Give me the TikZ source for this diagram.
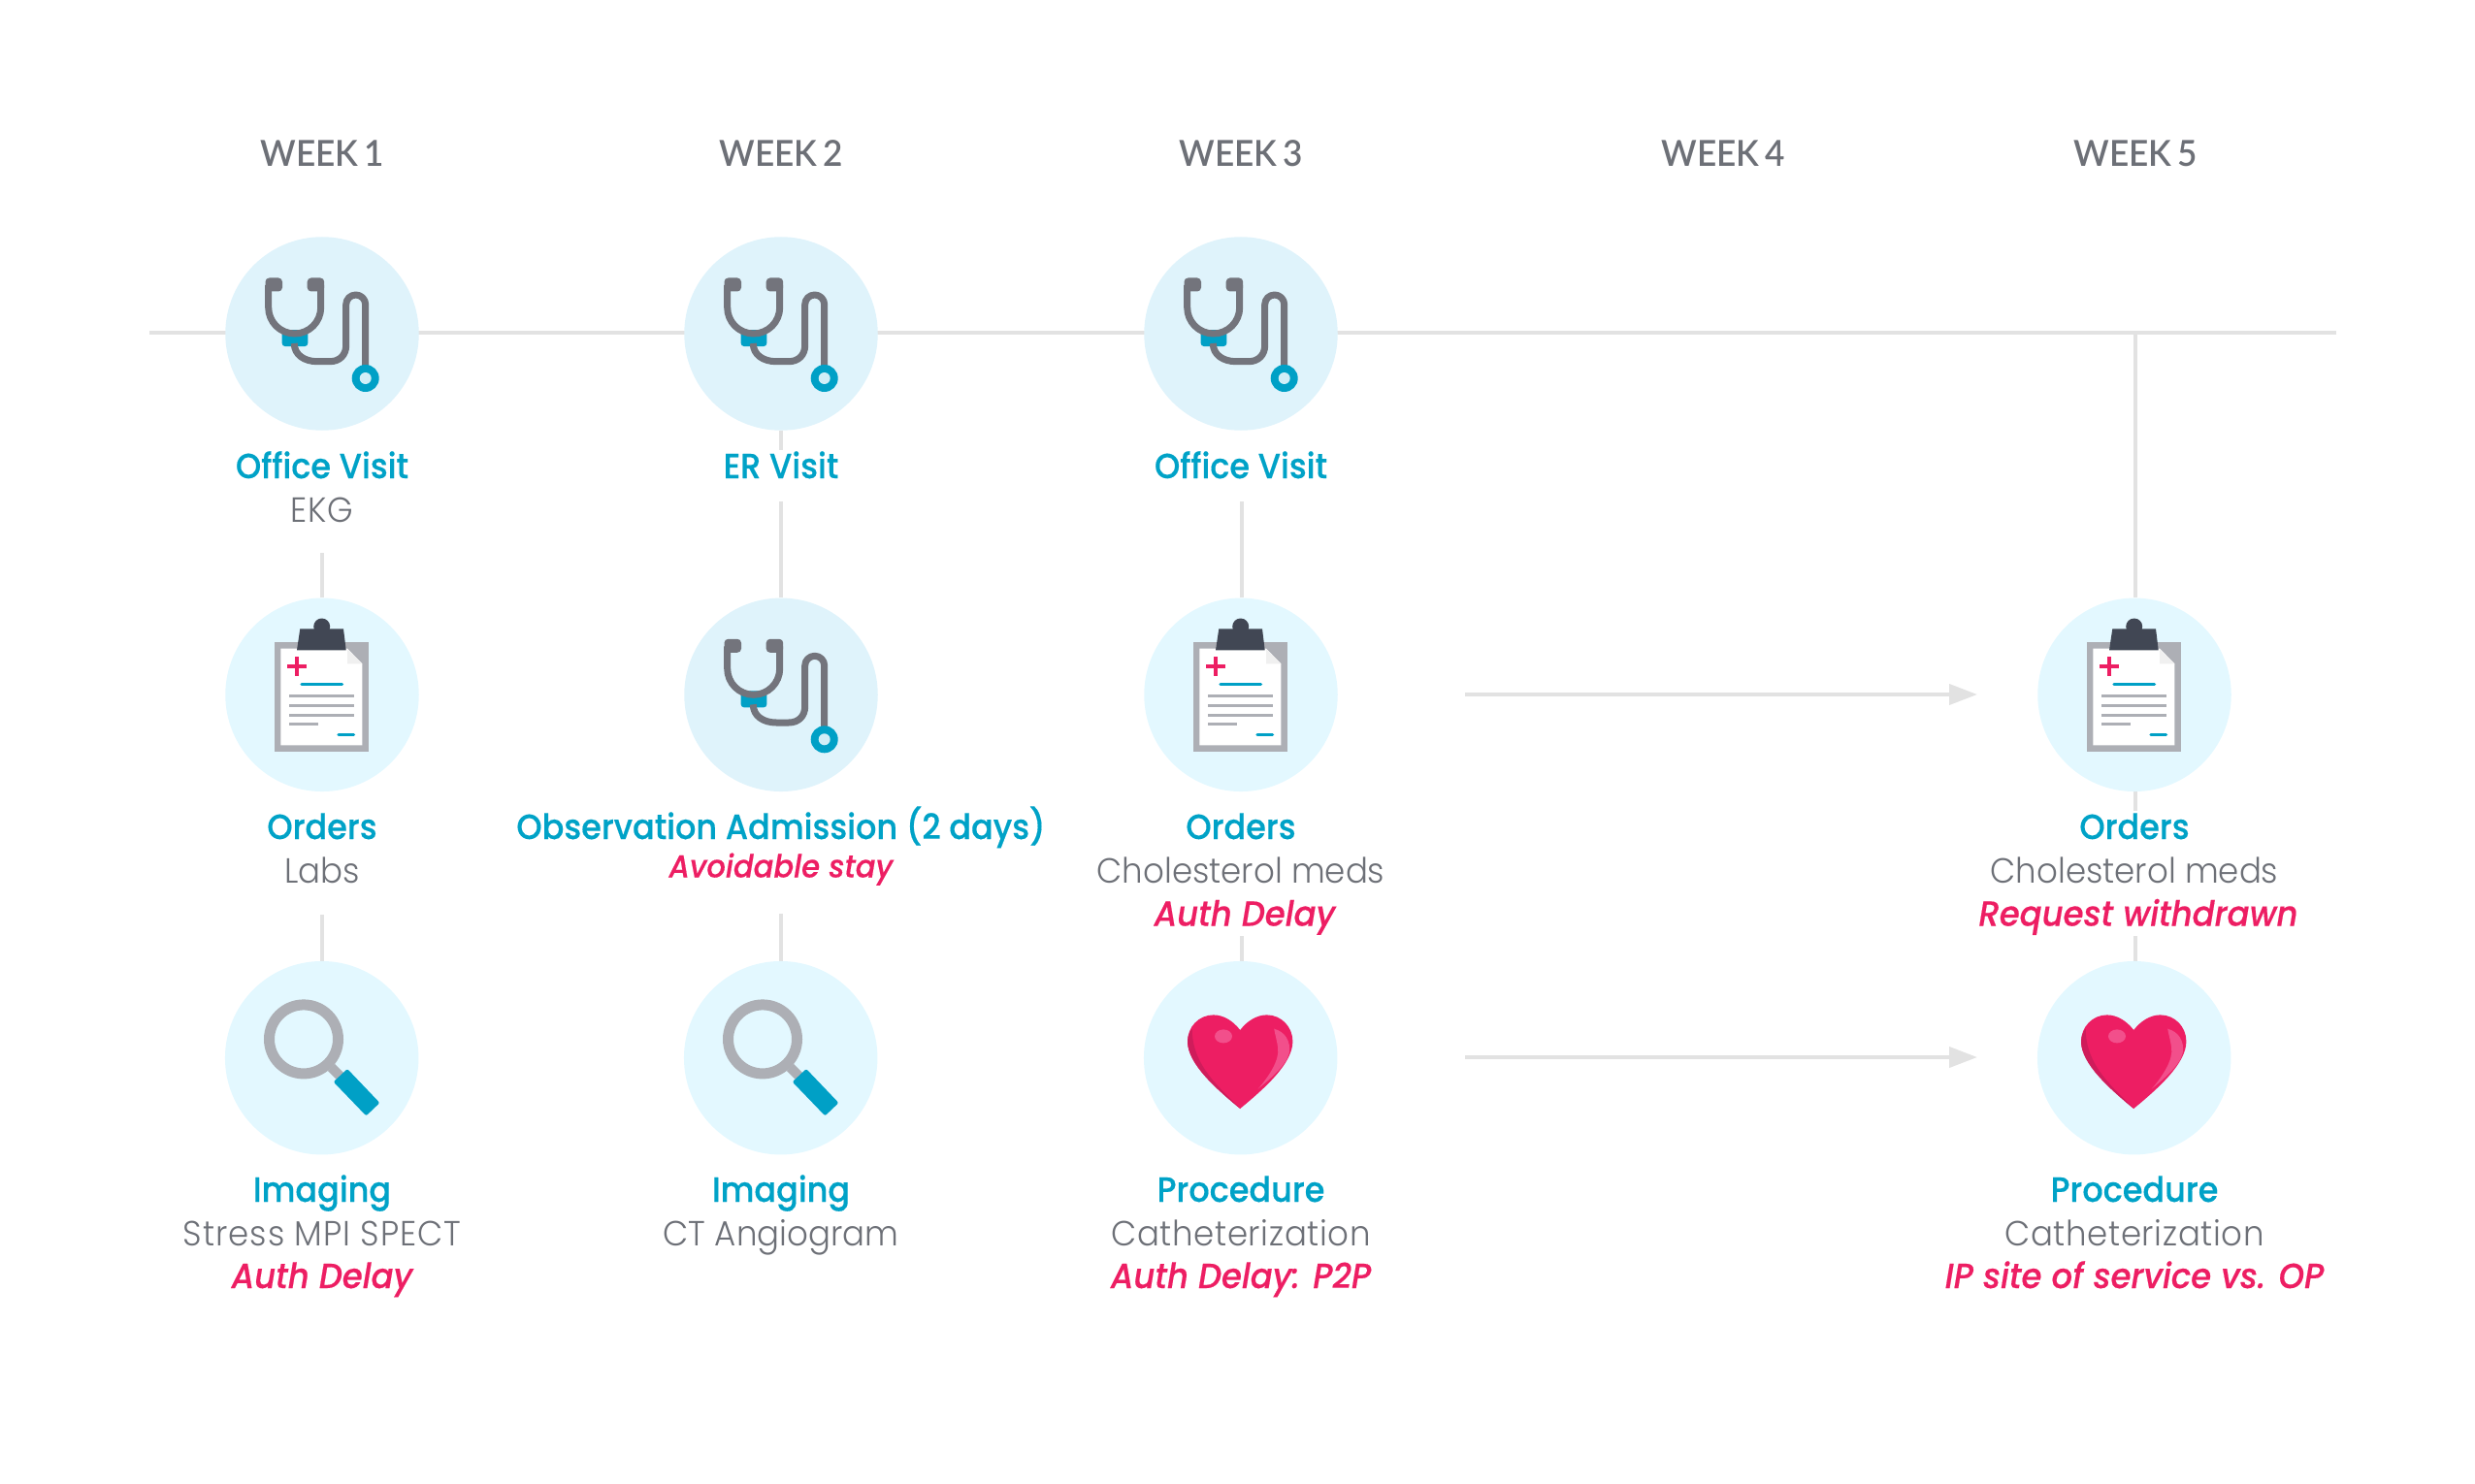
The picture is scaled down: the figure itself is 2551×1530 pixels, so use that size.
\documentclass[tikz,border=0pt]{standalone}
\usepackage{fontspec}
\usetikzlibrary{arrows.meta,backgrounds}
\setmainfont{Poppins}
\newfontfamily\medf{Poppins Medium}[FakeStretch=0.93,FakeBold=0.35]
\newfontfamily\pinkf{Poppins Medium}[FakeStretch=0.94,FakeBold=0.4]
\newfontfamily\lightf{Poppins Light}[FakeStretch=0.945]
\newfontfamily\weekf{Lato Semibold}[FakeStretch=0.95,WordSpace=0.7]
\definecolor{circA}{HTML}{DFF3FB}
\definecolor{circB}{HTML}{E3F8FF}
\definecolor{tealx}{HTML}{00A0C6}
\definecolor{tealt}{HTML}{00A2C7}
\definecolor{pinkx}{HTML}{ED1E63}
\definecolor{pinkd}{HTML}{CF1C5B}
\definecolor{pinkl}{HTML}{F24F8B}
\definecolor{graytxt}{HTML}{6D7077}
\definecolor{grayic}{HTML}{73747C}
\definecolor{graylt}{HTML}{ADAFB5}
\definecolor{darkclip}{HTML}{414754}
\definecolor{linec}{HTML}{E2E2E2}
\tikzset{
  icirc/.style={circle,minimum size=199.5pt,inner sep=0pt,fill=#1},
  conn/.style={draw=linec,line width=4pt},
  flow/.style={conn,-{Triangle[length=29pt,width=21pt,fill=linec]}},
  lab/.style={anchor=base,inner sep=0pt},
  wk/.style={lab,text=graytxt,font=\weekf\fontsize{37}{40}\selectfont},
  ttl/.style={lab,text=tealt,font=\medf\fontsize{36}{40}\selectfont},
  subt/.style={lab,text=graytxt,font=\lightf\fontsize{36}{40}\selectfont},
  subwide/.style={subt,font=\lightf\fontsize{36}{40}\selectfont\addfontfeature{LetterSpace=#1}},
  flag/.style={lab,text=pinkx,font=\pinkf\itshape\fontsize{36}{40}\selectfont},
  flags/.style={lab,text=pinkx,font=\pinkf\itshape\fontsize{32.5}{36}\selectfont},
  steth/.pic={
    \fill[tealx,rounded corners=3pt] (-41.3,-4) rectangle (-14.7,13);
    \draw[grayic,line width=7pt,line join=round] (-28.7,10) .. controls (-28.7,22) and (-18,28.7) .. (-5,28.7) -- (8,28.7) .. controls (18,28.7) and (24.7,22) .. (24.7,12) -- (24.7,-30) arc[start angle=180,end angle=0,radius=10pt] -- (44.7,34);
    \draw[grayic,line width=7pt] (-55.3,-50) -- (-55.3,-27) arc[start angle=180,delta angle=180,radius=27pt] -- (-1.3,-50);
    \fill[grayic,rounded corners=4pt] (-58.5,-57.5) rectangle (-41,-43.5);
    \fill[grayic,rounded corners=4pt] (-15.3,-57.5) rectangle (2.2,-43.5);
    \fill[tealx] (44.7,46) circle[radius=14pt];
    \fill[circA!70!white!90!tealx] (44.7,46) circle[radius=6pt];
  },
  clipb/.pic={
    \fill[graylt] (-49.3,-54.7) rectangle (48,58.7);
    \fill[white] (-42.7,-47.7) -- (26,-47.7) -- (41.3,-32) -- (41.3,52) -- (-42.7,52) -- cycle;
    \fill[black!6] (26,-47) -- (26,-32) -- (41.3,-32) -- cycle;
    \fill[darkclip] (-22.7,-68) -- (22,-68) -- (24.7,-46) -- (-26,-46) -- cycle;
    \fill[darkclip] (-0.3,-70.3) circle[radius=8.5pt];
    \fill[pinkx] (-35.7,-31.5) rectangle (-16.3,-27);
    \fill[pinkx] (-28.3,-39) rectangle (-23.7,-19.6);
    \draw[tealx,line width=3.5pt,line cap=round] (-21,-10.7) -- (20.5,-10.7);
    \draw[graylt,line width=3pt] (-34,1) -- (33.3,1) (-34,10.7) -- (33.3,10.7) (-34,20.7) -- (33.3,20.7) (-34,30.3) -- (-4,30.3);
    \draw[tealx,line width=3.5pt,line cap=round] (17,41) -- (32.5,41);
  },
  magn/.pic={
    \draw[graylt,line width=10pt] (9.7,9.7) -- (19.7,19.7);
    \draw[graylt,line width=11pt] (-18.7,-19.3) circle[radius=35.5pt];
    \fill[tealx,rounded corners=2pt] (26.3,11.3) -- (59.7,46.3) -- (45.7,59.7) -- (12,24.7) -- cycle;
  },
  heartic/.pic={
    \fill[pinkx] (-0.5,-28.7) .. controls (-8,-38.5) and (-18,-44.3) .. (-28,-44.3) .. controls (-43,-44.3) and (-54.7,-32) .. (-54.7,-17) .. controls (-54.7,6) and (-25,32) .. (-0.5,52.3) .. controls (24,32) and (53.7,6) .. (53.7,-17) .. controls (53.7,-32) and (42,-44.3) .. (27,-44.3) .. controls (17,-44.3) and (7,-38.5) .. cycle;
    \fill[pinkd] (-54.7,-17) .. controls (-54.7,6) and (-25,32) .. (-0.5,52.3) .. controls (-22,30) and (-50,8) .. (-50,-30) .. controls (-52.5,-27) and (-54.7,-22) .. cycle;
    \fill[pinkl] (-17.7,-22.3) ellipse[x radius=9pt,y radius=7pt];
    \fill[pinkl] (34.5,-30) .. controls (46,-27) and (52,-17) .. (50,-5) .. controls (47,8) and (30,22) .. (18,32) .. controls (30,18) and (40,2) .. (38.5,-10) .. controls (37.5,-18) and (35.5,-24) .. cycle;
  },
}
\begin{document}
\begin{tikzpicture}[x=1pt,y=-1pt]
\useasboundingbox (0,0) rectangle (2551,1530);
% week labels
\node[wk] (w1) at (332,172) {WEEK 1};
\node[wk] (w2) at (805,172) {WEEK 2};
\node[wk] (w3) at (1279,172) {WEEK 3};
\node[wk] (w4) at (1776,172) {WEEK 4};
\node[wk] (w5) at (2201,172) {WEEK 5};
% circles
\node[icirc=circA] (c11) at (332,344) {};
\node[icirc=circA] (c21) at (805,344) {};
\node[icirc=circA] (c31) at (1279,344) {};
\node[icirc=circB] (c12) at (332,716.3) {};
\node[icirc=circA] (c22) at (805,716.3) {};
\node[icirc=circB] (c32) at (1279,716.3) {};
\node[icirc=circB] (c52) at (2200,716.3) {};
\node[icirc=circB] (c13) at (331.7,1090.7) {};
\node[icirc=circB] (c23) at (804.7,1090.7) {};
\node[icirc=circB] (c33) at (1278.7,1090.7) {};
\node[icirc=circB] (c53) at (2199.7,1090.7) {};
% icons
\pic at (c11) {steth}; \pic at (c21) {steth}; \pic at (c31) {steth}; \pic at (c22) {steth};
\pic at (c12) {clipb}; \pic at (c32) {clipb}; \pic at (c52) {clipb};
\pic at (c13) {magn}; \pic at (c23) {magn};
\pic at (c33) {heartic}; \pic at (c53) {heartic};
% labels
\node[ttl] (t11) at (332,493) {Office Visit};
\node[subwide=2.8] (s11) at (332,538) {EKG};
\node[ttl] (t21) at (805,493) {ER Visit};
\node[ttl] (t31) at (1279,493) {Office Visit};
\node[ttl] (t12) at (332,865) {Orders};
\node[subt] (s12) at (332,910) {Labs};
\node[ttl] (t22) at (805,865) {Observation Admission (2 days)};
\node[flags] (f22) at (805,904.5) {Avoidable stay};
\node[ttl] (t32) at (1279,865) {Orders};
\node[subt] (s32) at (1279,910) {Cholesterol meds};
\node[flag] (f32) at (1283,954.5) {Auth Delay};
\node[ttl] (t52) at (2200,865) {Orders};
\node[subt] (s52) at (2200,910) {Cholesterol meds};
\node[flag] (f52) at (2204,954.5) {Request withdrawn};
\node[ttl] (t13) at (332,1239) {Imaging};
\node[subwide=2.8] (s13) at (332,1284) {Stress MPI SPECT};
\node[flag] (f13) at (332,1328) {Auth Delay};
\node[ttl] (t23) at (805,1239) {Imaging};
\node[subt] (s23) at (805,1284) {CT Angiogram};
\node[ttl] (t33) at (1279,1239) {Procedure};
\node[subwide=1.8] (s33) at (1279,1284) {Catheterization};
\node[flag] (f33) at (1279,1328) {Auth Delay: P2P};
\node[ttl] (t53) at (2200,1239) {Procedure};
\node[subwide=1.8] (s53) at (2200,1284) {Catheterization};
\node[flag] (f53) at (2200,1328) {IP site of service vs. OP};
% connector end points
\coordinate (ls) at (154,342.5); \coordinate (le) at (2408,342.5);
\coordinate (j5) at (2201,342.5);
\coordinate (e12) at (331.5,570); \coordinate (e13) at (331.5,943);
\coordinate (e21) at (805,464); \coordinate (e21b) at (805,517);
\coordinate (e23) at (805,942);
\coordinate (e31) at (1280,517); \coordinate (e33) at (1280,965);
\coordinate (e52) at (2201,836); \coordinate (e53) at (2201,965);
\coordinate (a1s) at (1510,716); \coordinate (a1e) at (2038,716);
\coordinate (a2s) at (1510,1090); \coordinate (a2e) at (2038,1090);
\begin{scope}[on background layer]
\draw[conn] (ls) -- (le);
\draw[conn] (j5) -- (j5 |- c52.north);
\draw[conn] (e12) -- (e12 |- c12.north);
\draw[conn] (e13) -- (e13 |- c13.north);
\draw[conn] (e21 |- c21.south) -- (e21);
\draw[conn] (e21b) -- (e21b |- c22.north);
\draw[conn] (e23) -- (e23 |- c23.north);
\draw[conn] (e31) -- (e31 |- c32.north);
\draw[conn] (e33) -- (e33 |- c33.north);
\draw[conn] (e52 |- c52.south) -- (e52);
\draw[conn] (e53) -- (e53 |- c53.north);
\end{scope}
\draw[flow] (a1s) -- (a1e);
\draw[flow] (a2s) -- (a2e);
\end{tikzpicture}
\end{document}
